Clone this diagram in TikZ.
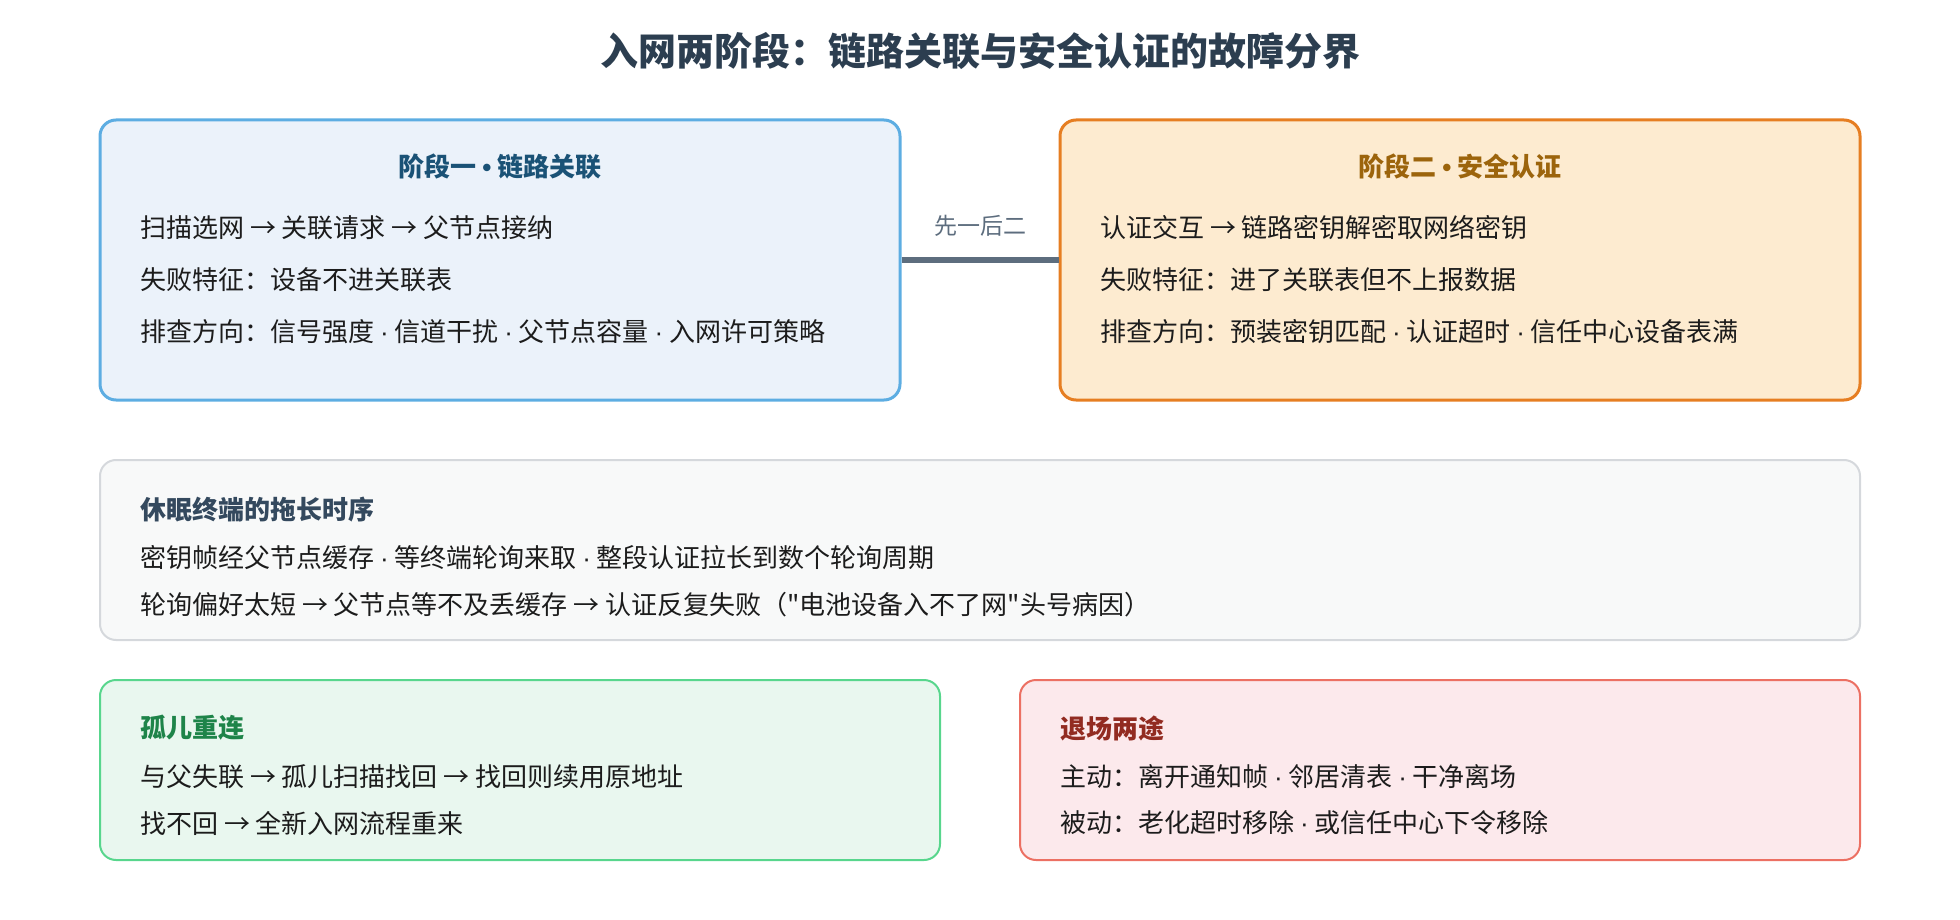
\documentclass[tikz,border=0pt]{standalone}
\usepackage{fontspec}
\setmainfont{Noto Sans CJK SC}[Ligatures=TeXOff]
\newfontfamily\latinfont{Liberation Sans}
\newcommand\dotsep{ {\latinfont ·} }
\newcommand\bulsep{ {\latinfont\bfseries •} }
\definecolor{titlec}{HTML}{2C3E50}
\definecolor{bodyc}{HTML}{1C1C1C}
\definecolor{linkc}{HTML}{5D6D7E}
\definecolor{blueb}{HTML}{5DADE2}
\definecolor{bluef}{HTML}{EBF2FA}
\definecolor{blueh}{HTML}{1A5276}
\definecolor{orangeb}{HTML}{E67E22}
\definecolor{orangef}{HTML}{FDEBD0}
\definecolor{orangeh}{HTML}{9C640C}
\definecolor{grayb}{HTML}{D5D8DC}
\definecolor{grayf}{HTML}{F8F9F9}
\definecolor{grayh}{HTML}{34495E}
\definecolor{greenb}{HTML}{58D68D}
\definecolor{greenf}{HTML}{E9F7EF}
\definecolor{greenh}{HTML}{1E8449}
\definecolor{redb}{HTML}{EC7063}
\definecolor{redf}{HTML}{FCE9EC}
\definecolor{redh}{HTML}{922B21}
\begin{document}
\begin{tikzpicture}[x=1pt,y=-1pt,
  panel/.style={draw, rounded corners=16pt, inner sep=0pt},
  bigpanel/.style={panel, line width=3pt, minimum width=800pt, minimum height=280pt},
  smallpanel/.style={panel, line width=2pt, minimum height=180pt},
  head/.style={inner sep=0pt, font=\fontsize{26}{31}\selectfont\bfseries},
  txt/.style={inner sep=0pt, anchor=west, text=bodyc, font=\fontsize{26}{31}\selectfont}]
  \useasboundingbox (0,0) rectangle (1960,920);
  \node[inner sep=0pt, text=titlec, font=\fontsize{38}{45}\selectfont\bfseries] (title) at (980,51) {入网两阶段：链路关联与安全认证的故障分界};
  % two stages
  \node[bigpanel, draw=blueb, fill=bluef] (p1) at (500,260) {};
  \node[bigpanel, draw=orangeb, fill=orangef] (p2) at (1460,260) {};
  \draw[linkc, line width=5pt] (p1.east) -- (p2.west) node[midway, above=21pt, inner sep=0pt, font=\fontsize{23}{28}\selectfont] (order) {先一后二};
  \node[head, text=blueh] (p1h) at (500,167) {阶段一\bulsep 链路关联};
  \node[txt] (p1a) at (140,228) {扫描选网 → 关联请求 → 父节点接纳};
  \node[txt] (p1b) at (140,280) {失败特征：设备不进关联表};
  \node[txt] (p1c) at (140,332) {排查方向：信号强度\dotsep 信道干扰\dotsep 父节点容量\dotsep 入网许可策略};
  \node[head, text=orangeh] (p2h) at (1460,167) {阶段二\bulsep 安全认证};
  \node[txt] (p2a) at (1100,228) {认证交互 → 链路密钥解密取网络密钥};
  \node[txt] (p2b) at (1100,280) {失败特征：进了关联表但不上报数据};
  \node[txt] (p2c) at (1100,332) {排查方向：预装密钥匹配\dotsep 认证超时\dotsep 信任中心设备表满};
  % sleepy end devices
  \node[smallpanel, minimum width=1760pt, draw=grayb, fill=grayf] (sleep) at (980,550) {};
  \node[head, anchor=west, text=grayh] (sleeph) at (140,510) {休眠终端的拖长时序};
  \node[txt] (sleepa) at (140,558) {密钥帧经父节点缓存\dotsep 等终端轮询来取\dotsep 整段认证拉长到数个轮询周期};
  \node[txt] (sleepb) at (140,605) {轮询偏好太短 → 父节点等不及丢缓存 → 认证反复失败（"电池设备入不了网"头号病因）};
  % orphan / leave
  \node[smallpanel, minimum width=840pt, draw=greenb, fill=greenf] (orph) at (520,770) {};
  \node[head, anchor=west, text=greenh] (orphh) at (140,728) {孤儿重连};
  \node[txt] (orpha) at (140,777) {与父失联 → 孤儿扫描找回 → 找回则续用原地址};
  \node[txt] (orphb) at (140,823) {找不回 → 全新入网流程重来};
  \node[smallpanel, minimum width=840pt, draw=redb, fill=redf] (leave) at (1440,770) {};
  \node[head, anchor=west, text=redh] (leaveh) at (1060,728) {退场两途};
  \node[txt] (leavea) at (1060,777) {主动：离开通知帧\dotsep 邻居清表\dotsep 干净离场};
  \node[txt] (leaveb) at (1060,823) {被动：老化超时移除\dotsep 或信任中心下令移除};
\end{tikzpicture}
\end{document}
